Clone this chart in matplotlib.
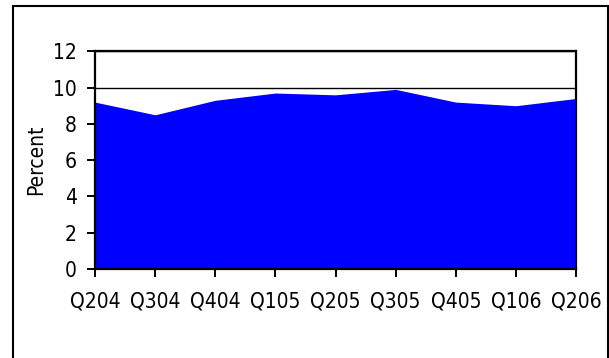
import matplotlib
matplotlib.use("Agg")
import matplotlib.pyplot as plt
from matplotlib.patches import Rectangle

quarters = ["Q204", "Q304", "Q404", "Q105", "Q205", "Q305", "Q405", "Q106", "Q206"]
percent = [9.2, 8.5, 9.3, 9.7, 9.6, 9.9, 9.2, 9.0, 9.4]
y_ticks = [0, 2, 4, 6, 8, 10, 12]

plt.rcParams["font.family"] = ["DejaVu Sans"]
plt.rcParams["font.stretch"] = "condensed"

W, H = 609, 358
fig = plt.figure(figsize=(W / 100, H / 100), dpi=100)
ax = fig.add_axes([95 / W, 1 - 269 / H, (576 - 95) / W, (269 - 51.3) / H])

x = list(range(len(quarters)))
ax.fill_between(x, 0, percent, color="#0000FF", linewidth=0, zorder=2)

ax.set_xlim(0, len(quarters) - 1)
ax.set_ylim(0, 12)
ax.set_yticks(y_ticks)
ax.set_xticks(x)
ax.set_xticklabels(quarters)
ax.yaxis.grid(True, color="black", linewidth=1.0)
ax.set_axisbelow(True)

for s in ax.spines.values():
    s.set_linewidth(1.6)
    s.set_color("black")
    s.set_zorder(3)

ax.tick_params(axis="both", direction="out", length=6, width=1.4,
               labelsize=15, colors="black")
ax.tick_params(axis="x", pad=10)
ax.tick_params(axis="y", pad=7)
ax.set_ylabel("Percent", fontsize=15, labelpad=5)

# outer chart-area border
fig.patches.append(Rectangle((13 / W, -0.1), (608 - 13) / W, 1.1 - 6 / H,
                             transform=fig.transFigure, fill=False,
                             edgecolor="black", linewidth=1.5))

fig.savefig("out.png", dpi=100)
